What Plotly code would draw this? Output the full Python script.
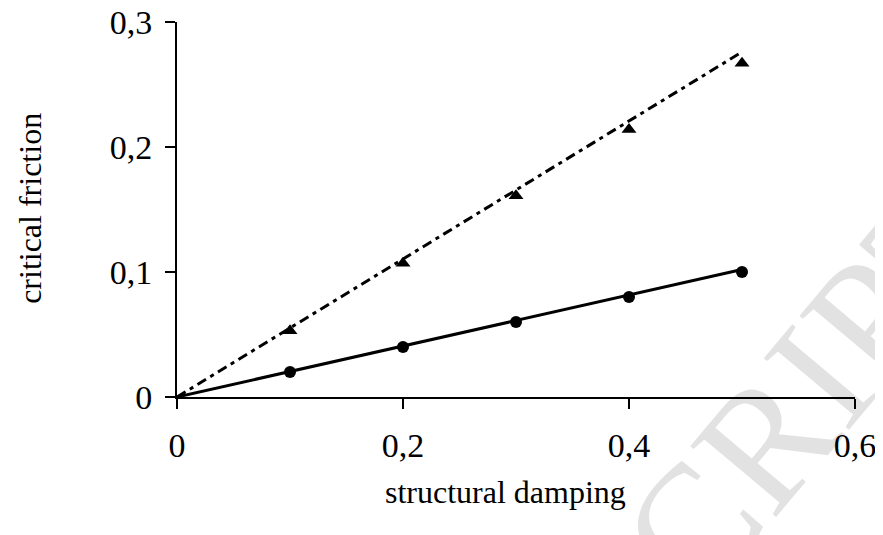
import plotly.graph_objects as go

damping = [0.1, 0.2, 0.3, 0.4, 0.5]
friction_circle = [0.02, 0.04, 0.06, 0.08, 0.10]
friction_triangle = [0.053, 0.107, 0.161, 0.214, 0.267]
fit_x = [0, 0.5]
fit_circle = [0, 0.102]
fit_triangle = [0, 0.276]
x_ticks = [0, 0.2, 0.4, 0.6]
x_tick_labels = ["0", "0,2", "0,4", "0,6"]
y_ticks = [0, 0.1, 0.2, 0.3]
y_tick_labels = ["0", "0,1", "0,2", "0,3"]

FONT = "Liberation Serif, Times New Roman, serif"

fig = go.Figure()
fig.add_trace(go.Scatter(x=fit_x, y=fit_triangle, mode="lines",
                         line=dict(color="black", width=3, dash="10px,5px,4px,5px"),
                         showlegend=False, hoverinfo="skip"))
fig.add_trace(go.Scatter(x=fit_x, y=fit_circle, mode="lines",
                         line=dict(color="black", width=3),
                         showlegend=False, hoverinfo="skip"))
fig.add_trace(go.Scatter(x=damping, y=friction_triangle, mode="markers",
                         marker=dict(symbol="triangle-up", size=13, color="black"),
                         showlegend=False))
fig.add_trace(go.Scatter(x=damping, y=friction_circle, mode="markers",
                         marker=dict(symbol="circle", size=12, color="black"),
                         showlegend=False))

# faint watermark
fig.add_annotation(text="SCRIPT", x=0.89, y=-0.07, xref="paper", yref="paper",
                   xanchor="center", yanchor="middle",
                   showarrow=False, textangle=-50, opacity=0.11,
                   font=dict(family=FONT, size=170, color="black"))

# axis titles
fig.add_annotation(text="structural damping", x=0.484, y=-0.253, xref="paper", yref="paper",
                   xanchor="center", yanchor="middle",
                   showarrow=False, font=dict(family=FONT, size=32, color="black"))
fig.add_annotation(text="critical friction", x=-0.217, y=0.504, xref="paper", yref="paper",
                   xanchor="center", yanchor="middle",
                   showarrow=False, textangle=-90, font=dict(family=FONT, size=32, color="black"))

fig.update_layout(
    width=883, height=535,
    margin=dict(l=169, r=36, t=14, b=146),
    paper_bgcolor="white", plot_bgcolor="white",
    font=dict(family=FONT, size=34, color="black"),
)
fig.update_xaxes(range=[0, 0.6], tickvals=x_ticks, ticktext=x_tick_labels,
                 showgrid=False, zeroline=False, showline=True, linecolor="black", linewidth=2,
                 ticks="outside", ticklen=10, tickwidth=2, tickcolor="black",
                 ticklabelstandoff=7, automargin=False, ticklabeloverflow="allow")
fig.update_yaxes(range=[0, 0.3], tickvals=y_ticks, ticktext=y_tick_labels,
                 showgrid=False, zeroline=False, showline=True, linecolor="black", linewidth=2,
                 ticks="outside", ticklen=10, tickwidth=2, tickcolor="black",
                 ticklabelstandoff=6, automargin=False, ticklabeloverflow="allow")

fig.write_html("out.html")
